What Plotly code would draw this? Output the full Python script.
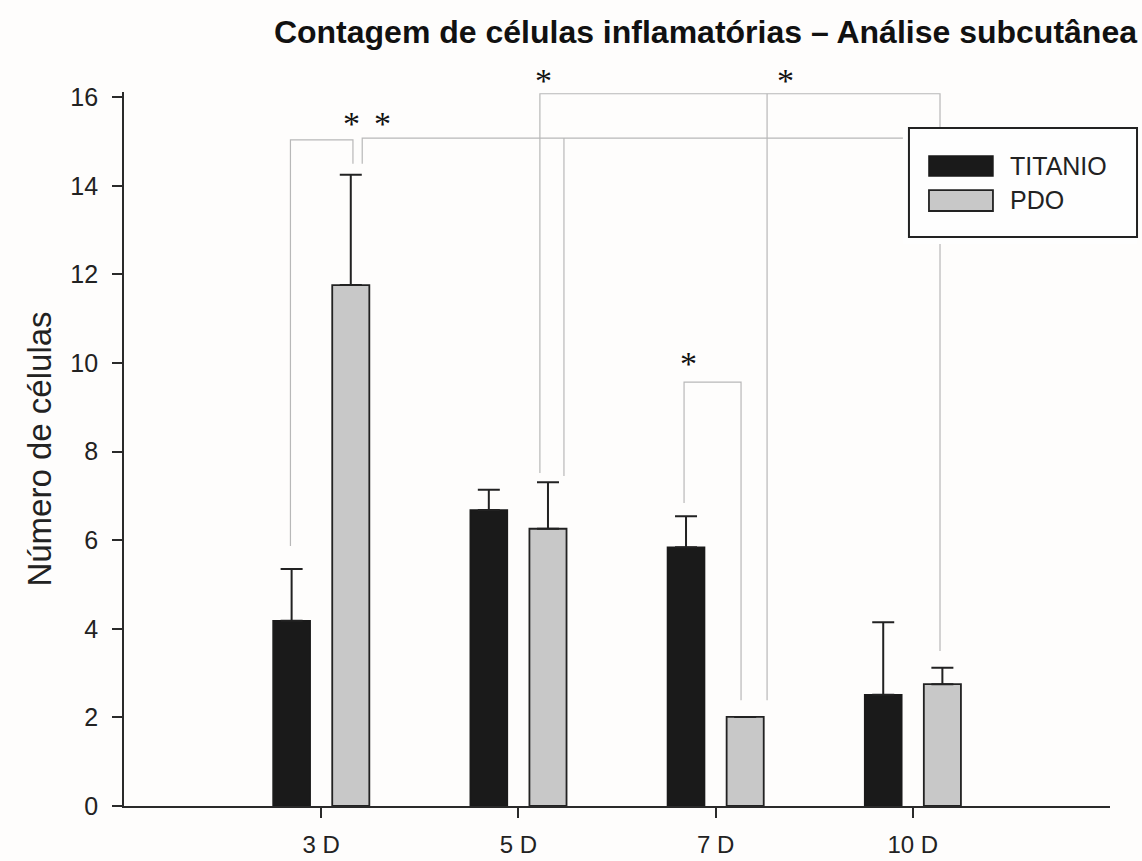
import plotly.graph_objects as go

# ---------------- data ----------------
categories = ["3 D", "5 D", "7 D", "10 D"]
cat_pos = [0, 1, 2, 3]
titanio = [4.18, 6.68, 5.84, 2.51]
titanio_err = [1.17, 0.46, 0.70, 1.64]
pdo = [11.76, 6.26, 2.01, 2.75]
pdo_err = [2.49, 1.05, None, 0.37]
y_ticks = [0, 2, 4, 6, 8, 10, 12, 14, 16]

# significance brackets: list of polylines in data coordinates (x, y)
brackets = [
    [(-0.156, 5.87), (-0.156, 15.04), (0.161, 15.04), (0.161, 14.50)],
    [(0.208, 14.50), (0.208, 15.08), (2.950, 15.08)],
    [(1.231, 15.08), (1.231, 7.45)],
    [(1.109, 7.52), (1.109, 16.08), (3.138, 16.08), (3.138, 3.50)],
    [(2.261, 16.08), (2.261, 2.39)],
    [(1.840, 6.84), (1.840, 9.57), (2.129, 9.57), (2.129, 2.39)],
]
# stars: (x, y anchor, yshift px)
stars = [
    (0.156, 15.04, 16),
    (0.313, 15.04, 16),
    (1.125, 16.08, 13),
    (2.352, 16.08, 13),
    (1.865, 9.57, 19),
]

FONT = "Arial, Liberation Sans, sans-serif"
DARK = "#1a1a1a"
GREY = "#c8c8c8"
LINE = "#222222"
BR = "#b8b8b8"

fig = go.Figure()
fig.add_trace(go.Bar(
    name="TITANIO", x=cat_pos, y=titanio,
    marker=dict(color=DARK, line=dict(color=DARK, width=1.5)),
    error_y=dict(type="data", array=titanio_err, symmetric=False,
                 arrayminus=[0] * 4, color=LINE, thickness=2, width=11),
))
fig.add_trace(go.Bar(
    name="PDO", x=cat_pos, y=pdo,
    marker=dict(color=GREY, line=dict(color=LINE, width=1.8)),
    error_y=dict(type="data", array=pdo_err, symmetric=False,
                 arrayminus=[0] * 4, color=LINE, thickness=2, width=11),
))

shapes = []
for pts in brackets:
    path = "M " + " L ".join(f"{x},{y}" for x, y in pts)
    shapes.append(dict(type="path", xref="x", yref="y", path=path,
                       line=dict(color=BR, width=1.2)))

# legend box (manual, to match the wide swatches)
shapes.append(dict(type="rect", xref="paper", yref="paper",
                   x0=0.790, x1=1.0274, y0=0.7871, y1=0.9496,
                   fillcolor="#fefefe", line=dict(width=0)))
shapes.append(dict(type="rect", xref="paper", yref="paper",
                   x0=0.7961, x1=1.0274, y0=0.7969, y1=0.9496,
                   fillcolor="#fefefe", line=dict(color="#222", width=2)))
shapes.append(dict(type="rect", xref="paper", yref="paper",
                   x0=0.8164, x1=0.8813, y0=0.8824, y1=0.9104,
                   fillcolor=DARK, line=dict(color=DARK, width=1.5)))
shapes.append(dict(type="rect", xref="paper", yref="paper",
                   x0=0.8164, x1=0.8813, y0=0.8333, y1=0.8627,
                   fillcolor=GREY, line=dict(color=LINE, width=1.8)))

annotations = []
for name, yy in (("TITANIO", 0.8964), ("PDO", 0.8487)):
    annotations.append(dict(text=name, xref="paper", yref="paper",
                            x=0.8966, y=yy, xanchor="left", yanchor="middle",
                            showarrow=False,
                            font=dict(family=FONT, size=25, color="#222")))
for sx, sy, ys in stars:
    annotations.append(dict(text="*", xref="x", yref="y", x=sx, y=sy,
                            yshift=ys, xanchor="center", yanchor="middle",
                            showarrow=False,
                            font=dict(family="Liberation Serif, Times New Roman, serif",
                                      size=34, color="#111")))

fig.update_layout(
    width=1142, height=861,
    margin=dict(l=124, r=32, t=92, b=55, autoexpand=False),
    paper_bgcolor="#fefdfc", plot_bgcolor="#fefdfc",
    barmode="group", bargap=0.4, bargroupgap=0.373,
    showlegend=False,
    title=dict(text="<b>Contagem de células inflamatórias – Análise subcutânea</b>",
               xref="container", x=0.9956, xanchor="right",
               y=0.963, yanchor="middle",
               font=dict(family=FONT, size=32, color="#111")),
    xaxis=dict(range=[-1, 4], tickvals=cat_pos, ticktext=categories,
               automargin=False,
               showgrid=False, zeroline=False, showline=True,
               linecolor="#2a2a2a", linewidth=1.8,
               ticks="outside", ticklen=10, tickwidth=1.8, tickcolor="#2a2a2a",
               ticklabelstandoff=6,
               tickfont=dict(family=FONT, size=24, color="#222")),
    yaxis=dict(range=[0, 16.12], tickvals=y_ticks,
               automargin=False,
               showgrid=False, zeroline=False, showline=True,
               linecolor="#2a2a2a", linewidth=1.8,
               ticks="outside", ticklen=10, tickwidth=1.8, tickcolor="#2a2a2a",
               ticklabelstandoff=9,
               tickfont=dict(family=FONT, size=25, color="#222")),
    shapes=shapes,
    annotations=annotations,
)
fig.update_yaxes(title=dict(text="Número de células", standoff=9,
                            font=dict(family=FONT, size=33, color="#222")))

fig.write_html("out.html")
